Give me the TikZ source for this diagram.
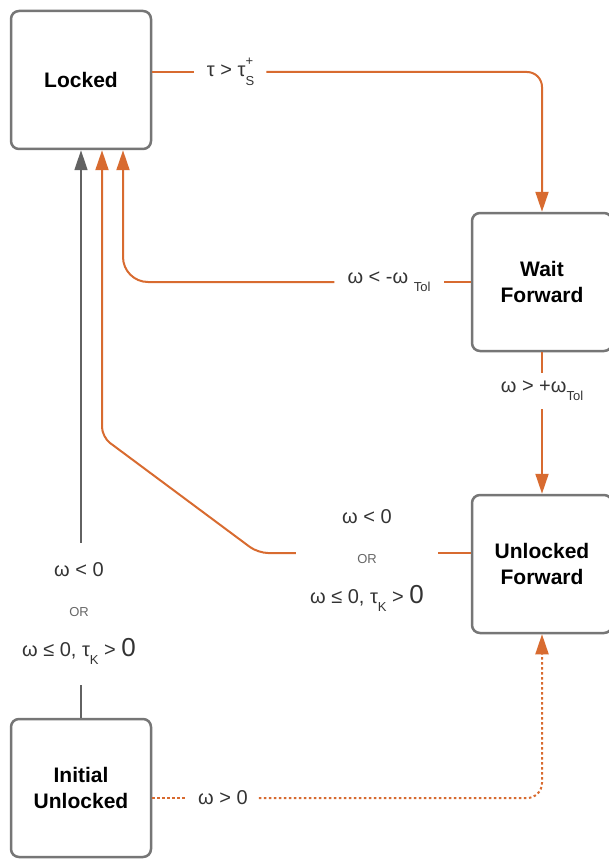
\documentclass[tikz,border=0pt]{standalone}
\usepackage{fontspec}
\setmainfont{Liberation Sans}
\usetikzlibrary{arrows.meta}
\definecolor{trorange}{HTML}{D86B30}
\definecolor{trgrey}{HTML}{626262}
\definecolor{boxgrey}{HTML}{767676}
\definecolor{labtext}{HTML}{333333}
\newcommand{\lsub}[1]{\raisebox{-0.4em}{\fontsize{13}{13}\selectfont #1}}
\newcommand{\lsubsup}[2]{\rlap{\raisebox{-0.45em}{\fontsize{13}{13}\selectfont #1}}\raisebox{0.55em}{\fontsize{13}{13}\selectfont #2}}
\newcommand{\orword}{{\fontsize{13}{13}\selectfont\color{black!60}OR}}
\newcommand{\bigzero}{{\fontsize{26}{26}\selectfont 0}}

\begin{document}
\begin{tikzpicture}[x=1pt,y=-1pt,
   statebox/.style={draw=boxgrey,line width=2.5pt,rounded corners=8pt,fill=white,
     minimum width=140pt,minimum height=138pt,align=center,
     font=\fontsize{21}{26}\selectfont\bfseries},
   cond/.style={align=center,text=labtext,inner xsep=13pt,inner ysep=4pt,
     font=\fontsize{20}{40}\selectfont},
   orline/.style={draw=trorange,line width=2pt},
   greyline/.style={draw=trgrey,line width=1.5pt},
   dotline/.style={dash pattern=on 2.5pt off 2.5pt},
   arrowtip/.style={-{Triangle[length=20pt,width=13pt]}}]
  \useasboundingbox (0,0) rectangle (608,861);
  % pixel grid, y runs down; states 140 wide, 140 tall

  % ---- states ----
  \node[statebox] (locked)    at (81,80)  {Locked};
  \node[statebox] (waitfwd)   at (542,282) {Wait\\Forward};
  \node[statebox] (unlockfwd) at (542,564) {Unlocked\\Forward};
  \node[statebox] (initunl)   at (81,788) {Initial\\Unlocked};

  % ---- conditions ----
  \node[cond] (tlab) at (230,72) {τ > τ\lsubsup{S}{+}};
  \node[cond] (wlab) at (389,282) {ω < -ω \lsub{Tol}};
  \node[cond,inner ysep=8pt] (plab) at (542,391) {ω > +ω\lsub{Tol}};
  \node[cond,inner xsep=14pt] (ulab) at (367,561)
     {ω < 0\\\orword\\ω ≤ 0, τ\lsub{K} > \bigzero};
  \node[cond,inner ysep=20pt] (glab) at (79,614)
     {ω < 0\\\orword\\ω ≤ 0, τ\lsub{K} > \bigzero};
  \node[cond,inner xsep=11pt] (olab) at (223,798) {ω > 0};
  \coordinate (bendA) at (258,553);
  \coordinate (bendB) at (102,437);

  % ---- locked -> wait forward ----
  \draw[orline] (locked.east |- tlab) -- (tlab.west);
  \draw[orline,arrowtip,rounded corners=15pt] (tlab.east) -| (waitfwd.north);

  % ---- wait forward -> locked / unlocked forward ----
  \draw[orline] (waitfwd.west |- wlab) -- (wlab.east);
  \draw[orline,arrowtip,rounded corners=25pt] (wlab.west) -| ([xshift=42pt]locked.south);
  \draw[orline] (waitfwd.south -| plab) -- (plab.north);
  \draw[orline,arrowtip] (plab.south) -- (unlockfwd.north -| plab);

  % ---- unlocked forward -> locked ----
  \draw[orline] (unlockfwd.west |- bendA) -- (ulab.east |- bendA);
  \draw[orline,arrowtip,rounded corners=10pt] (ulab.west |- bendA) -- (bendA) -- (bendB)
     -- ([xshift=21pt]locked.south);

  % ---- initial unlocked ----
  \draw[greyline] (initunl.north -| locked) -- (locked |- glab.south);
  \draw[greyline,arrowtip] (locked |- glab.north) -- (locked.south);
  \draw[orline,dotline] (initunl.east |- olab) -- (olab.west);
  \draw[orline,dotline,arrowtip,rounded corners=15pt] (olab.east) -| (unlockfwd.south);
\end{tikzpicture}
\end{document}
